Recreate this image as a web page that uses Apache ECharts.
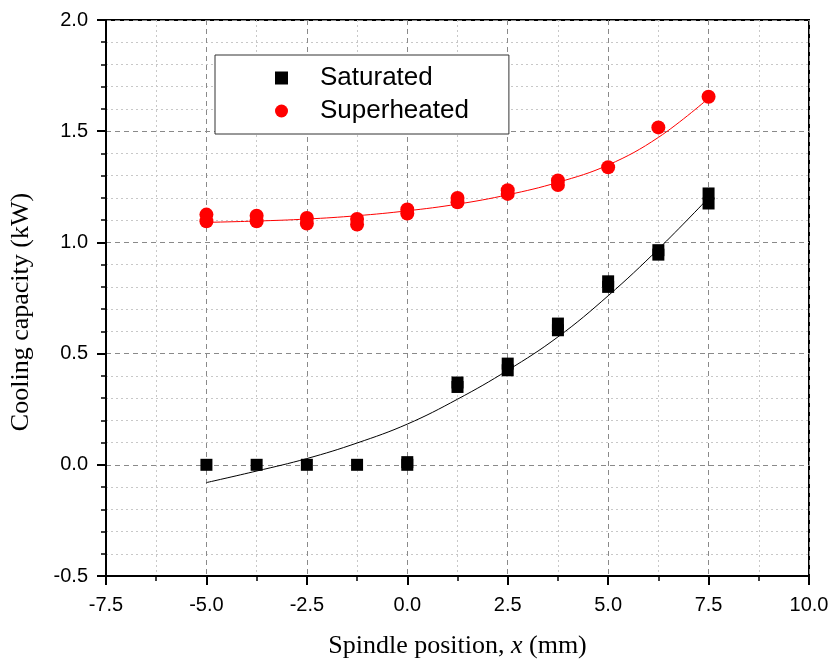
<!DOCTYPE html>
<html>
<head>
<meta charset="utf-8">
<script src="https://cdn.jsdelivr.net/npm/echarts@6/dist/echarts.min.js"></script>
<style>
html,body{margin:0;padding:0;background:#fff;}
#chart{width:835px;height:664px;}
</style>
</head>
<body>
<div id="chart"></div>
<script>
// Saturated measurements (repeated runs overlap)
var satX = [-5.0, -3.75, -2.5, -1.25, 0.0, 0.0, 1.25, 1.25, 2.5, 2.5, 3.75, 3.75, 5.0, 5.0, 6.25, 6.25, 7.5, 7.5];
var satY = [0.0, 0.0, 0.0, 0.0, 0.0, 0.012, 0.35, 0.37, 0.425, 0.455, 0.605, 0.635, 0.80, 0.825, 0.945, 0.965, 1.175, 1.22];
// Superheated measurements
var supX = [-5.0, -5.0, -3.75, -3.75, -2.5, -2.5, -1.25, -1.25, 0.0, 0.0, 1.25, 1.25, 2.5, 2.5, 3.75, 3.75, 5.0, 6.25, 7.5];
var supY = [1.095, 1.125, 1.095, 1.12, 1.085, 1.11, 1.08, 1.105, 1.13, 1.148, 1.18, 1.2, 1.218, 1.235, 1.258, 1.278, 1.338, 1.517, 1.655];
// Fit curves
var fitX = [-5.0, -3.75, -2.5, -1.25, 0.0, 1.25, 2.5, 3.75, 5.0, 6.25, 7.5];
var satFit = [-0.08, -0.028, 0.028, 0.098, 0.183, 0.295, 0.425, 0.575, 0.76, 0.97, 1.20];
var supFit = [1.09, 1.096, 1.105, 1.12, 1.142, 1.172, 1.214, 1.27, 1.348, 1.472, 1.648];
// Axis ticks
var xMin = -7.5, xMax = 10.0, xStep = 2.5;
var yMin = -0.5, yMax = 2.0, yStep = 0.5;
var legendNames = ['Saturated', 'Superheated'];

function pairs(xs, ys) { return xs.map(function (x, i) { return [x, ys[i]]; }); }

var sans = '"Liberation Sans", Arial, sans-serif';
var serif = '"Liberation Serif", "Times New Roman", serif';

var chart = echarts.init(document.getElementById('chart'), null, {renderer: 'canvas'});

function axisCommon() {
  return {
    type: 'value',
    axisLine: {show: true, onZero: false, lineStyle: {color: '#000', width: 2}},
    axisTick: {show: true, inside: false, length: 9, lineStyle: {color: '#000', width: 2}},
    minorTick: {show: true, length: 5, lineStyle: {color: '#000', width: 1.5}},
    splitLine: {show: true, lineStyle: {color: '#8a8a8a', width: 1, type: [5, 4]}},
    minorSplitLine: {show: true, lineStyle: {color: '#c8c8c8', width: 1, type: [2, 3]}},
    axisLabel: {color: '#000', fontSize: 20, fontFamily: sans, formatter: function (v) { return v.toFixed(1); }}
  };
}

var xAxis = axisCommon();
xAxis.min = xMin; xAxis.max = xMax; xAxis.interval = xStep;
xAxis.minorTick.splitNumber = 2;
xAxis.axisLabel.margin = 19;
xAxis.name = 'Spindle position, {i|x} (mm)';
xAxis.nameLocation = 'middle';
xAxis.nameGap = 57;
xAxis.nameTextStyle = {color: '#000', fontSize: 26, fontFamily: serif,
  rich: {i: {fontStyle: 'italic', fontSize: 26, fontFamily: serif, color: '#000'}}};

var yAxis = axisCommon();
yAxis.min = yMin; yAxis.max = yMax; yAxis.interval = yStep;
yAxis.minorTick.splitNumber = 5;
yAxis.axisLabel.margin = 18;
yAxis.name = 'Cooling capacity (kW)';
yAxis.nameLocation = 'middle';
yAxis.nameGap = 72;
yAxis.nameTextStyle = {color: '#000', fontSize: 26, fontFamily: serif, padding: [0, 28, 0, 0]};

var option = {
  backgroundColor: '#fff',
  animation: false,
  grid: {left: 106, right: 26, top: 20, bottom: 88, show: true, borderColor: '#000', borderWidth: 2, backgroundColor: 'transparent'},
  xAxis: xAxis,
  yAxis: yAxis,
  legend: {
    data: legendNames,
    orient: 'vertical',
    left: 215, top: 55,
    itemWidth: 13, itemHeight: 13, itemGap: 7,
    padding: [10, 40, 10, 60],
    backgroundColor: '#fff',
    borderColor: '#333', borderWidth: 1,
    textStyle: {color: '#000', fontSize: 26, fontFamily: sans, padding: [0, 0, 0, 27]}
  },
  series: [
    {name: 'Saturated fit', type: 'line', data: pairs(fitX, satFit), smooth: 0.4, showSymbol: false, symbol: 'none',
      lineStyle: {color: '#000', width: 1}, z: 2, silent: true},
    {name: 'Superheated fit', type: 'line', data: pairs(fitX, supFit), smooth: 0.4, showSymbol: false, symbol: 'none',
      lineStyle: {color: '#ff0000', width: 1}, z: 2, silent: true},
    {name: 'Saturated', type: 'scatter', data: pairs(satX, satY), symbol: 'rect', symbolSize: 12,
      itemStyle: {color: '#000', opacity: 1}, z: 3},
    {name: 'Superheated', type: 'scatter', data: pairs(supX, supY), symbol: 'circle', symbolSize: 14,
      itemStyle: {color: '#ff0000', opacity: 1}, z: 3}
  ]
};
chart.setOption(option);
</script>
</body>
</html>
